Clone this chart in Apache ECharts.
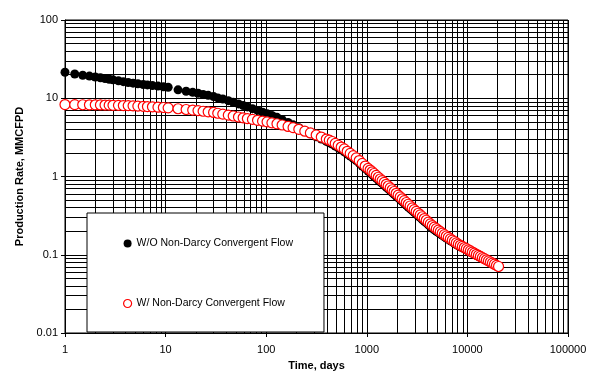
<!DOCTYPE html>
<html>
<head>
<meta charset="utf-8">
<script src="https://cdn.jsdelivr.net/npm/echarts@6/dist/echarts.min.js"></script>
<style>
html,body{margin:0;padding:0;background:#fff;}
#chart{width:600px;height:376px;}
</style>
</head>
<body>
<div id="chart"></div>
<script>
// Time, days (shared time steps of both runs)
const days = [
  1, 1.25, 1.5, 1.75, 2, 2.25, 2.5, 2.75, 3, 3.4, 3.8, 4.25, 4.75, 5.3, 6, 6.6, 7.4, 8.4, 9.5, 10.6,
  13.3, 16, 18.6, 21, 23.6, 26.5, 30, 33, 37, 42, 47, 53, 59, 65, 73, 82, 92, 102, 114, 128,
  144, 165, 185, 211, 242, 275, 314, 353, 396,
  424, 454, 486, 520, 557, 597, 639, 684, 733, 785, 841, 900, 964, 1030,
  1080, 1130, 1180, 1240, 1300, 1360, 1420, 1490, 1560, 1630, 1710, 1790, 1870, 1960, 2050, 2150,
  2250, 2360, 2470, 2580, 2700, 2830, 2960, 3100, 3250, 3400, 3560, 3730, 3900, 4090, 4280, 4480,
  4690, 4910, 5140, 5380, 5630, 5900, 6170, 6460, 6770, 7080, 7420, 7760, 8130, 8510, 8910, 9330,
  9770, 10230, 10710, 11210, 11740, 12290, 12870, 13470, 14110, 14770, 15460, 16190, 16950, 17750,
  18580, 19460, 20400
];
// Production rate, MMCFPD - W/O Non-Darcy Convergent Flow
const rateWithout = [
  21.5, 20.4, 19.7, 19.2, 18.7, 18.3, 17.9, 17.5, 17.2, 16.7, 16.3, 15.9, 15.6, 15.3, 15.0, 14.8, 14.5, 14.3, 14.0, 13.8,
  12.8, 12.3, 11.9, 11.6, 11.2, 10.9, 10.5, 10.1, 9.77, 9.31, 8.89, 8.46, 8.09, 7.75, 7.36, 6.99, 6.64, 6.34, 6.02, 5.70,
  5.31, 4.90, 4.57, 4.21, 3.83, 3.52, 3.22, 3.01, 2.81,
  2.70, 2.59, 2.45, 2.32, 2.19, 2.07, 1.94, 1.82, 1.71, 1.60, 1.48, 1.36, 1.26, 1.175,
  1.115, 1.059, 1.007, 0.954, 0.902, 0.857, 0.817, 0.774, 0.733, 0.697, 0.659, 0.625, 0.593, 0.563, 0.533, 0.506,
  0.479, 0.453, 0.429, 0.408, 0.387, 0.366, 0.348, 0.330, 0.313, 0.298, 0.282, 0.268, 0.255, 0.241, 0.229, 0.218,
  0.2084, 0.200, 0.1918, 0.1841, 0.177, 0.1695, 0.1636, 0.1574, 0.1512, 0.1459, 0.1405, 0.1352, 0.1305, 0.1264, 0.1227, 0.1189,
  0.1153, 0.1118, 0.1083, 0.1050, 0.1019, 0.0987, 0.0956, 0.0928, 0.0899, 0.0872, 0.0846, 0.0821, 0.0796, 0.0772,
  0.0749, 0.0725, 0.0703
];
// Production rate, MMCFPD - W/ Non-Darcy Convergent Flow
const rateWith = [
  8.30, 8.28, 8.26, 8.25, 8.24, 8.21, 8.18, 8.16, 8.13, 8.11, 8.07, 8.05, 8.00, 7.94, 7.89, 7.83, 7.78, 7.69, 7.62, 7.54,
  7.34, 7.18, 7.06, 6.95, 6.82, 6.71, 6.58, 6.43, 6.27, 6.08, 5.93, 5.76, 5.62, 5.50, 5.37, 5.23, 5.10, 4.99, 4.85, 4.72,
  4.55, 4.36, 4.21, 4.01, 3.79, 3.60, 3.39, 3.19, 3.01,
  2.91, 2.80, 2.65, 2.51, 2.38, 2.25, 2.10, 1.97, 1.85, 1.73, 1.60, 1.47, 1.36, 1.27,
  1.209, 1.148, 1.092, 1.034, 0.978, 0.929, 0.886, 0.839, 0.795, 0.756, 0.714, 0.677, 0.643, 0.610, 0.578, 0.548,
  0.519, 0.491, 0.465, 0.442, 0.420, 0.397, 0.377, 0.358, 0.339, 0.323, 0.306, 0.290, 0.276, 0.261, 0.248, 0.236,
  0.2253, 0.2156, 0.2062, 0.1973, 0.1891, 0.1805, 0.1735, 0.1666, 0.1597, 0.1536, 0.1476, 0.1417, 0.1365, 0.1320, 0.1277, 0.1235,
  0.1195, 0.1156, 0.1119, 0.1083, 0.1048, 0.1014, 0.0981, 0.0951, 0.0919, 0.0891, 0.0862, 0.0835, 0.0808, 0.0782,
  0.0757, 0.0732, 0.0708
];
const seriesNames = ['W/O Non-Darcy Convergent Flow', 'W/ Non-Darcy Convergent Flow'];
const xTickLabels = ['1', '10', '100', '1000', '10000', '100000'];
const yTickLabels = ['0.01', '0.1', '1', '10', '100'];
const xDecades = [1, 10, 100, 1000, 10000];
const yDecades = [0.01, 0.1, 1, 10];
const minorMultipliers = [2, 3, 4, 5, 6, 7, 8, 9];

const FONT = 'Liberation Sans, Arial, Helvetica, sans-serif';

const minorLines = [];
xDecades.forEach(d => minorMultipliers.forEach(m => minorLines.push({ xAxis: d * m })));
yDecades.forEach(d => minorMultipliers.forEach(m => minorLines.push({ yAxis: +(d * m).toPrecision(3) })));

function fmt(v) {
  return String(+Number(v).toPrecision(6));
}

const chart = echarts.init(document.getElementById('chart'), null, { renderer: 'canvas' });
chart.setOption({
  animation: false,
  textStyle: { fontFamily: FONT },
  grid: { left: 65, right: 32, top: 20, bottom: 39, show: true, borderColor: '#000', borderWidth: 1, backgroundColor: 'transparent' },
  legend: {
    data: [
      { name: seriesNames[0], icon: 'circle', itemStyle: { color: '#000', opacity: 1 } },
      { name: seriesNames[1], icon: 'circle', itemStyle: { color: '#fff', borderColor: '#ff0000', borderWidth: 1.2, opacity: 1 } }
    ],
    orient: 'vertical',
    left: 87, top: 213,
    padding: [25, 31, 23, 36],
    itemGap: 49,
    itemWidth: 8, itemHeight: 8,
    z: 50, zlevel: 0,
    backgroundColor: '#fff',
    borderColor: '#000', borderWidth: 1,
    textStyle: { fontFamily: FONT, fontSize: 10.5, color: '#000' }
  },
  xAxis: {
    type: 'log', logBase: 10, min: 1, max: 100000, interval: 1,
    name: 'Time, days', nameLocation: 'middle', nameGap: 27,
    nameTextStyle: { fontFamily: FONT, fontSize: 11, fontWeight: 'bold', color: '#000' },
    axisLine: { show: true, lineStyle: { color: '#000', width: 1 } },
    axisTick: { show: true, length: 4, lineStyle: { color: '#000' } },
    axisLabel: { fontFamily: FONT, fontSize: 11, color: '#000', margin: 11,
      formatter: v => { const s = fmt(v); return xTickLabels.indexOf(s) >= 0 ? s : ''; } },
    splitLine: { show: true, lineStyle: { color: '#000', width: 1 } }
  },
  yAxis: {
    type: 'log', logBase: 10, min: 0.01, max: 100, interval: 1,
    name: 'Production Rate, MMCFPD', nameLocation: 'middle', nameGap: 32,
    nameTextStyle: { fontFamily: FONT, fontSize: 11, fontWeight: 'bold', color: '#000' },
    axisLine: { show: true, lineStyle: { color: '#000', width: 1 } },
    axisTick: { show: true, length: 4, lineStyle: { color: '#000' } },
    axisLabel: { fontFamily: FONT, fontSize: 11, color: '#000', margin: 7,
      formatter: v => { const s = fmt(v); return yTickLabels.indexOf(s) >= 0 ? s : ''; } },
    splitLine: { show: true, lineStyle: { color: '#000', width: 1 } }
  },
  series: [
    {
      name: 'grid-minor', type: 'scatter', data: [], z: 1, silent: true,
      markLine: {
        silent: true, symbol: ['none', 'none'], animation: false, z: 1,
        label: { show: false },
        lineStyle: { color: '#000', width: 1, type: 'solid' },
        emphasis: { disabled: true },
        data: minorLines
      }
    },
    {
      name: seriesNames[0], type: 'scatter', z: 3,
      symbol: 'circle', symbolSize: 9,
      itemStyle: { color: '#000', opacity: 1 },
      data: days.map((d, i) => [d, rateWithout[i]])
    },
    {
      name: seriesNames[1], type: 'scatter', z: 4,
      symbol: 'circle', symbolSize: 10,
      itemStyle: { color: '#fff', borderColor: '#ff0000', borderWidth: 1.2, opacity: 1 },
      data: days.map((d, i) => [d, rateWith[i]])
    }
  ]
});
</script>
</body>
</html>
